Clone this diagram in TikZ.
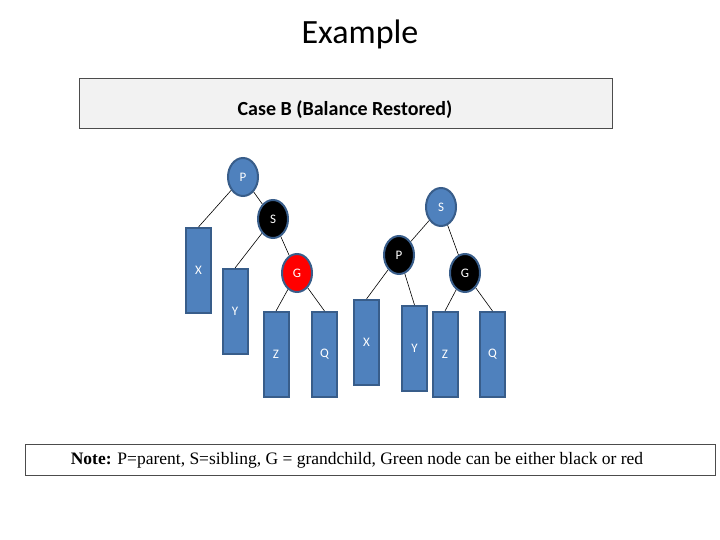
\documentclass[tikz,border=0pt]{standalone}
\usepackage{fontspec}
\setmainfont{Carlito}
\newfontfamily\tnr{Liberation Serif}
\usetikzlibrary{shapes.geometric}
\definecolor{nb}{HTML}{4F81BD}
\definecolor{nbd}{HTML}{385D8A}
\begin{document}
\begin{tikzpicture}[x=1pt,y=-1pt,
 nd/.style={ellipse,draw=nbd,line width=2pt,minimum width=30pt,minimum height=38pt,inner sep=0pt,font=\fontsize{13}{13}\selectfont,text=white},
 bn/.style={nd,fill=nb},
 kn/.style={nd,fill=black},
 rn/.style={nd,fill=red},
 lf/.style={rectangle,draw=nbd,line width=2pt,fill=nb,minimum width=25pt,minimum height=85pt,inner sep=0pt,font=\fontsize{13}{13}\selectfont,text=white},
 ed/.style={draw=black,line width=0.6pt}]
\useasboundingbox (0,0) rectangle (720,540);
\node[font=\fontsize{34}{34}\selectfont] (title) at (360,34) {Example};
\node[draw=black!70,fill=black!5,line width=0.8pt,minimum width=533pt,minimum height=50pt,inner sep=0pt] (case) at (345.5,103) {};
\node[font=\bfseries\fontsize{20}{20}\selectfont] (caset) at (345,110) {Case B (Balance Restored)};
% left tree
\node[bn] (P1) at (243,177) {P};
\node[kn] (S1) at (273,219) {S};
\node[rn] (G1) at (297,273) {G};
\node[lf] (X1) at (198.5,270.5) {X};
\node[lf] (Y1) at (235,311.5) {Y};
\node[lf] (Z1) at (276,354.5) {Z};
\node[lf] (Q1) at (324.5,354.5) {Q};
% right tree
\node[bn] (S2) at (441,207) {S};
\node[kn] (P2) at (399,255) {P};
\node[kn] (G2) at (465,273) {G};
\node[lf] (X2) at (366.5,342.5) {X};
\node[lf] (Y2) at (414.5,348.5) {Y};
\node[lf] (Z2) at (445,354.5) {Z};
\node[lf] (Q2) at (492.5,354.5) {Q};
\path[ed] (P1) -- (X1.north) (P1) -- (S1) (S1) -- (Y1.north) (S1) -- (G1)
 (G1) -- (Z1.north) (G1) -- (Q1.north);
\path[ed] (S2) -- (P2) (S2) -- (G2) (P2) -- (X2.north) (P2) -- (Y2.north)
 (G2) -- (Z2.north) (G2) -- (Q2.north);
\node[draw=black!70,line width=0.8pt,minimum width=690pt,minimum height=31pt,inner sep=0pt] (note) at (370,459.5) {};
\node[font=\tnr\fontsize{17.5}{17.5}\selectfont] (notet) at (357,460) {\textbf{Note:} P=parent, S=sibling, G = grandchild, Green node can be either black or red};
\end{tikzpicture}
\end{document}
